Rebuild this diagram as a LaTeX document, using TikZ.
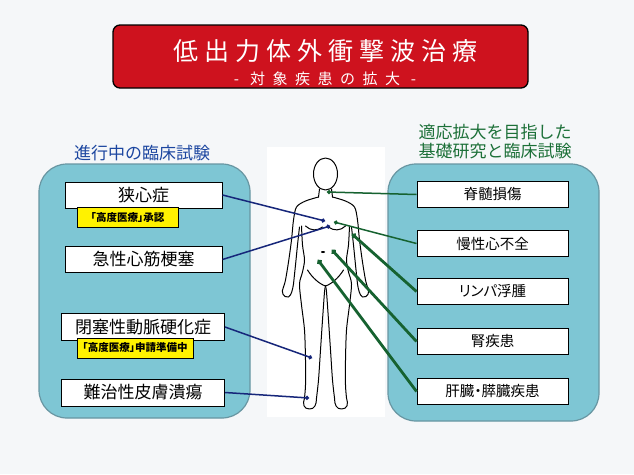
\documentclass[tikz,border=0pt]{standalone}
\usepackage{fontspec}
\newfontfamily\jp{Noto Sans CJK JP}
\newfontfamily\jptag[RawFeature=+palt]{Noto Sans CJK JP}
\newfontfamily\jptitle[LetterSpace=24]{Noto Sans CJK JP}
\newfontfamily\jpsub[LetterSpace=50]{Noto Sans CJK JP}
\usetikzlibrary{arrows.meta}

\definecolor{titlered}{RGB}{206,18,30}
\definecolor{panelblue}{RGB}{126,198,212}
\definecolor{panelline}{RGB}{104,150,162}
\definecolor{leftline}{RGB}{22,38,122}
\definecolor{rightline}{RGB}{22,98,48}
\definecolor{lefttitle}{RGB}{28,70,160}
\definecolor{righttitle}{RGB}{28,112,56}
\definecolor{paper}{RGB}{245,247,249}

\begin{document}
\begin{tikzpicture}[x=1pt,y=-1pt,
    panel/.style = {draw=panelline, line width=1.2pt, fill=panelblue, rounded corners=28pt},
    leftbox/.style = {draw, line width=1pt, fill=white, minimum width=157pt, minimum height=26pt, inner sep=0pt,
                      font=\fontsize{17}{20}\selectfont\jp},
    rightbox/.style = {draw, line width=1pt, fill=white, minimum width=151pt, minimum height=26pt, inner sep=0pt,
                       font=\fontsize{14.5}{17}\selectfont\jptag},
    tag/.style = {draw, line width=0.8pt, fill=yellow, minimum height=20pt, inner sep=0pt,
                  font=\fontsize{10.5}{12}\selectfont\jptag\bfseries},
    body/.style = {line width=1pt, line join=round, line cap=round},
    bluelink/.style = {leftline, line width=1.5pt, arrows = -{Circle[length=4pt]}},
    greenlink/.style = {rightline, line width=1.5pt, arrows = -{Circle[length=4pt]}},
    thicklink/.style = {greenlink, line width=2.8pt, arrows = -{Circle[length=5pt]}}]

    %\draw [help lines] (0,0) grid[step=50] (634,474);
    \fill[paper] (0,0) rectangle (634,474);
    \useasboundingbox (0,0) rectangle (634,474);

    % title
    \draw[fill=titlered, line width=1.3pt, rounded corners=7pt] (113,25) rectangle (528,88);
    \path   (325,51) node (title) [white, font=\fontsize{25}{27}\selectfont\jptitle] {低出力体外衝撃波治療}
            (325,79) node (sub) [white, font=\fontsize{15}{17}\selectfont\jpsub] {- 対象疾患の拡大 -};

    % two panels and the figure between them
    \draw[panel] (39,164) rectangle (250,418);
    \draw[panel] (388,164) rectangle (599,421);
    \fill[white] (267,147) rectangle (385,417);

    \path   (142,153) node (ltitle) [lefttitle, font=\fontsize{17}{20}\selectfont\jp] {進行中の臨床試験}
            (415,132) node (rtitle1) [anchor=west, righttitle, font=\fontsize{17}{20}\selectfont\jp] {適応拡大を目指した}
            (415,151) node (rtitle2) [anchor=west, righttitle, font=\fontsize{17}{20}\selectfont\jp] {基礎研究と臨床試験};

    % body
    \draw[body] (325.5,174) ellipse [x radius=12, y radius=16];
    \foreach \s in {1,-1} {
        \begin{scope}[shift={(325.5,0)}, xscale=\s]
            \draw[body] (-6,189) -- (-7,197);
            \draw[body] plot[smooth] coordinates {(-7,197) (-20,201) (-29,207) (-32,220) (-34,240) (-37,262) (-40,280) (-42,287)};
            \draw[body] (-42,287) .. controls (-45,292) and (-42,298) .. (-37,297) .. controls (-34,295) and (-33,290) .. (-32,284);
            \draw[body] plot[smooth] coordinates {(-32,284) (-30,265) (-28,245) (-26,227)};
            \draw[body] plot[smooth] coordinates {(-24,226) (-23,245) (-21,260) (-23,272) (-26,284) (-24,305) (-21,330) (-20,360) (-20,385) (-21,398)};
            \draw[body] (-21,398) .. controls (-23,404) and (-22,409) .. (-16,409) .. controls (-11,409) and (-9,405) .. (-9,398);
            \draw[body] plot[smooth] coordinates {(-9,398) (-7,380) (-5,350) (-3,320) (-1,292) (0,286)};
            \draw[body] (-20,226) .. controls (-15,231) and (-8,231) .. (-3,227);
            \draw[body] (-18,270) .. controls (-13,278) and (-6,284) .. (0,286);
        \end{scope}
    }
    \fill (323,252) ellipse [x radius=2, y radius=1];

    % points on the body
    \coordinate (heart1) at (325,221);
    \coordinate (heart2) at (330,226);
    \coordinate (thigh) at (312,358);
    \coordinate (foot) at (309,398);
    \coordinate (neck) at (327,192);
    \coordinate (heart3) at (334,222);
    \coordinate (arm) at (352,234);
    \coordinate (kidney) at (332,250);
    \coordinate (liver) at (318,260);

    % boxes on the left
    \path   (143.5,195) node (ap) [leftbox] {狭心症}
            (127.5,217.5) node (tag1) [tag, minimum width=101pt] {「高度医療」承認}
            (143.5,259.5) node (ami) [leftbox] {急性心筋梗塞}
            (143,327) node (aso) [leftbox, minimum width=163pt, minimum height=27pt] {閉塞性動脈硬化症}
            (135,348) node (tag2) [tag, minimum width=116pt] {「高度医療」申請準備中}
            (143,392.5) node (ulc) [leftbox, minimum width=163pt, minimum height=27pt] {難治性皮膚潰瘍};

    % boxes on the right
    \path   (492.5,194.5) node (sci) [rightbox] {脊髄損傷}
            (492.5,243.5) node (chf) [rightbox] {慢性心不全}
            (492.5,291.5) node (lym) [rightbox] {リンパ浮腫}
            (492.5,341.5) node (ren) [rightbox] {腎疾患}
            (492.5,391.5) node (liv) [rightbox] {肝臓・膵臓疾患};

    \draw[bluelink] (ap.east) -- (heart1);
    \draw[bluelink] (ami.east) -- (heart2);
    \draw[bluelink] (aso.east) -- (thigh);
    \draw[bluelink] (ulc.east) -- (foot);

    \draw[greenlink] (sci.west) -- (neck);
    \draw[greenlink] (chf.west) -- (heart3);
    \draw[thicklink] (lym.west) -- (arm);
    \draw[thicklink] (ren.west) -- (kidney);
    \draw[thicklink] (liv.west) -- (liver);
\end{tikzpicture}
\end{document}
